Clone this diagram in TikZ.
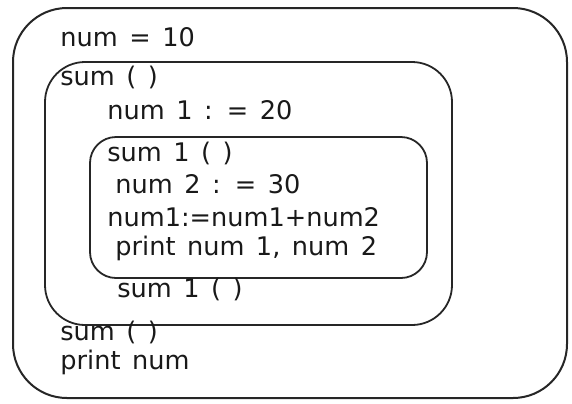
\documentclass[tikz,border=0pt]{standalone}
\usepackage{fontspec}
\setmainfont{DejaVu Sans}
\newcommand{\mycodefont}{\fontsize{12.8}{14}\selectfont\spaceskip=0.45em plus 0.1em\relax}
\begin{document}
\begin{tikzpicture}[x=0.5pt,y=-0.5pt,
  code/.style={anchor=west,inner sep=0pt,font=\mycodefont,text=black!90},
  scopebox/.style={draw=black!85,line width=0.9pt}]
\useasboundingbox (0,0) rectangle (572,403);
% boxes
\draw[scopebox,line width=1pt,rounded corners=27pt] (13,8) rectangle (567,398);
\draw[scopebox,rounded corners=20pt] (45,62) rectangle (452,325);
\draw[scopebox,rounded corners=13pt] (90,137) rectangle (427,278);
% text
\node[code] (t1) at (60,37) {num = 10};
\node[code] (t2) at (60,77) {sum ( )};
\node[code] (t3) at (107,110) {num 1 : = 20};
\node[code] (t4) at (107,153) {sum 1 ( )};
\node[code] (t5) at (115,184) {num 2 : = 30};
\node[code] (t6) at (107,217) {num1:=num1+num2};
\node[code] (t7) at (115,248) {print num 1, num 2};
\node[code] (t8) at (117,289) {sum 1 ( )};
\node[code] (t9) at (60,332) {sum ( )};
\node[code] (t10) at (60,362) {print num};
\end{tikzpicture}
\end{document}
